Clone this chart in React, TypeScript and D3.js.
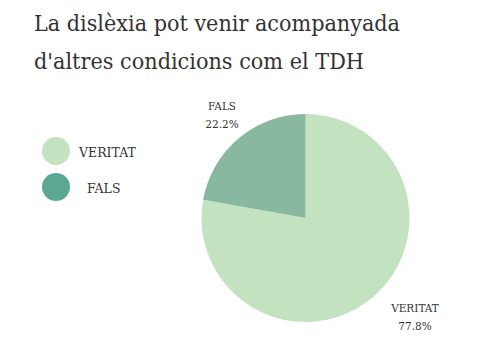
import React from "react";
import * as d3 from "d3";

const categories = ["VERITAT", "FALS"];
const values = [77.8, 22.2];
const sliceColors = ["#c2e2c0", "#88b8a0"];
const legendColors = ["#c2e2c0", "#5aa894"];
const titleLines = ["La dislèxia pot venir acompanyada", "d'altres condicions com el TDH"];

export default function App() {
  const W = 485, H = 357;
  const cx = 305.5, cy = 218, r = 104;
  const pie = d3.pie<number>().sort(null).startAngle(0).endAngle(2 * Math.PI)(values);
  const arc = d3.arc<any>().innerRadius(0).outerRadius(r);
  const serif = "'DejaVu Serif', serif";
  const labelPos = [
    { x: 415, y: 312 },
    { x: 222, y: 110 },
  ];
  return (
    <svg width={W} height={H} style={{ position: "absolute", left: 0, top: 0, background: "#fff" }}>
      {titleLines.map((t, i) => (
        <text key={i} x={34} y={31 + i * 38} fontFamily={serif} fontSize={22} fill="#333"
          textLength={i === 0 ? 366 : 330} lengthAdjust="spacingAndGlyphs">
          {t}
        </text>
      ))}
      <g transform={`translate(${cx},${cy})`}>
        {pie.map((p, i) => (
          <path key={i} d={arc(p) as string} fill={sliceColors[i]} />
        ))}
      </g>
      {categories.map((c, i) => (
        <g key={c}>
          <text x={labelPos[i].x} y={labelPos[i].y} textAnchor="middle" fontFamily={serif} fontSize={10.5} fill="#333">
            {c}
          </text>
          <text x={labelPos[i].x} y={labelPos[i].y + 18} textAnchor="middle" fontFamily={serif} fontSize={10.5} fill="#333">
            {values[i].toFixed(1)}%
          </text>
        </g>
      ))}
      {categories.map((c, i) => (
        <g key={"l" + c}>
          <circle cx={56} cy={151 + i * 36} r={14} fill={legendColors[i]} />
          <text x={i === 0 ? 79 : 87} y={157 + i * 36} fontFamily={serif} fontSize={12.5} fill="#333">
            {c}
          </text>
        </g>
      ))}
    </svg>
  );
}
